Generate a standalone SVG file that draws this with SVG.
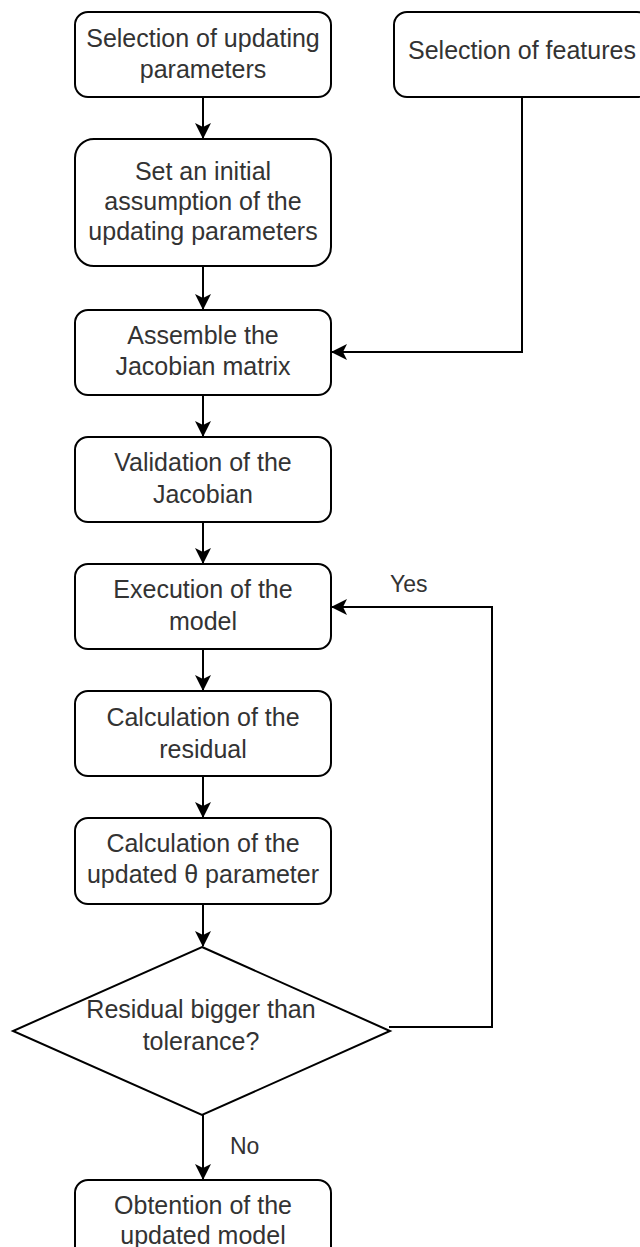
<svg xmlns="http://www.w3.org/2000/svg" width="640" height="1247" viewBox="0 0 640 1247">
<style>
.box{fill:#fff;stroke:#000;stroke-width:2}
.t{font-family:"Liberation Sans",Arial,sans-serif;font-size:25px;fill:#333;text-anchor:middle}
.lbl{font-family:"Liberation Sans",Arial,sans-serif;font-size:23px;fill:#333}
.c{fill:none;stroke:#000;stroke-width:2}
</style>
<defs>
<marker id="arr" viewBox="0 0 16 16" refX="15" refY="8" markerWidth="16" markerHeight="16" markerUnits="userSpaceOnUse" orient="auto">
<path d="M0,0 L16,8 L0,16 L4,8 Z" fill="#000"/>
</marker>
</defs>
<rect width="640" height="1247" fill="#fff"/>
<g id="connectors">
<path class="c" d="M203,97 V138" marker-end="url(#arr)"/>
<path class="c" d="M522,97 V352 H332" marker-end="url(#arr)"/>
<path class="c" d="M203,266 V309" marker-end="url(#arr)"/>
<path class="c" d="M203,395 V436" marker-end="url(#arr)"/>
<path class="c" d="M203,522 V563" marker-end="url(#arr)"/>
<path class="c" d="M203,649 V690" marker-end="url(#arr)"/>
<path class="c" d="M203,776 V817" marker-end="url(#arr)"/>
<path class="c" d="M203,904 V946" marker-end="url(#arr)"/>
<path class="c" d="M389,1027 H492 V607 H332" marker-end="url(#arr)"/>
<path class="c" d="M203,1115 V1179" marker-end="url(#arr)"/>
<text class="lbl" x="390" y="592">Yes</text>
<text class="lbl" x="230" y="1154">No</text>
</g>
<g id="n1">
<rect class="box" x="75" y="12" width="256" height="85" rx="13"/>
<text class="t" x="203" y="47">Selection of updating</text>
<text class="t" x="203" y="78">parameters</text>
</g>
<g id="n2">
<rect class="box" x="394" y="12" width="256" height="85" rx="13"/>
<text class="t" x="522" y="59">Selection of features</text>
</g>
<g id="n3">
<rect class="box" x="75" y="139" width="256" height="127" rx="19"/>
<text class="t" x="203" y="180">Set an initial</text>
<text class="t" x="203" y="210">assumption of the</text>
<text class="t" x="203" y="240">updating parameters</text>
</g>
<g id="n4">
<rect class="box" x="75" y="310" width="256" height="85" rx="13"/>
<text class="t" x="203" y="344">Assemble the</text>
<text class="t" x="203" y="375">Jacobian matrix</text>
</g>
<g id="n5">
<rect class="box" x="75" y="437" width="256" height="85" rx="13"/>
<text class="t" x="203" y="471">Validation of the</text>
<text class="t" x="203" y="503">Jacobian</text>
</g>
<g id="n6">
<rect class="box" x="75" y="564" width="256" height="85" rx="13"/>
<text class="t" x="203" y="598">Execution of the</text>
<text class="t" x="203" y="630">model</text>
</g>
<g id="n7">
<rect class="box" x="75" y="691" width="256" height="85" rx="13"/>
<text class="t" x="203" y="726">Calculation of the</text>
<text class="t" x="203" y="758">residual</text>
</g>
<g id="n8">
<rect class="box" x="75" y="818" width="256" height="86" rx="13"/>
<text class="t" x="203" y="852">Calculation of the</text>
<text class="t" x="203" y="883">updated θ parameter</text>
</g>
<g id="n9">
<polygon class="box" points="202,947 390,1031 202,1115 13,1031"/>
<text class="t" x="201" y="1018">Residual bigger than</text>
<text class="t" x="201" y="1050">tolerance?</text>
</g>
<g id="n10">
<rect class="box" x="75" y="1180" width="256" height="85" rx="13"/>
<text class="t" x="203" y="1214">Obtention of the</text>
<text class="t" x="203" y="1244">updated model</text>
</g>
</svg>
